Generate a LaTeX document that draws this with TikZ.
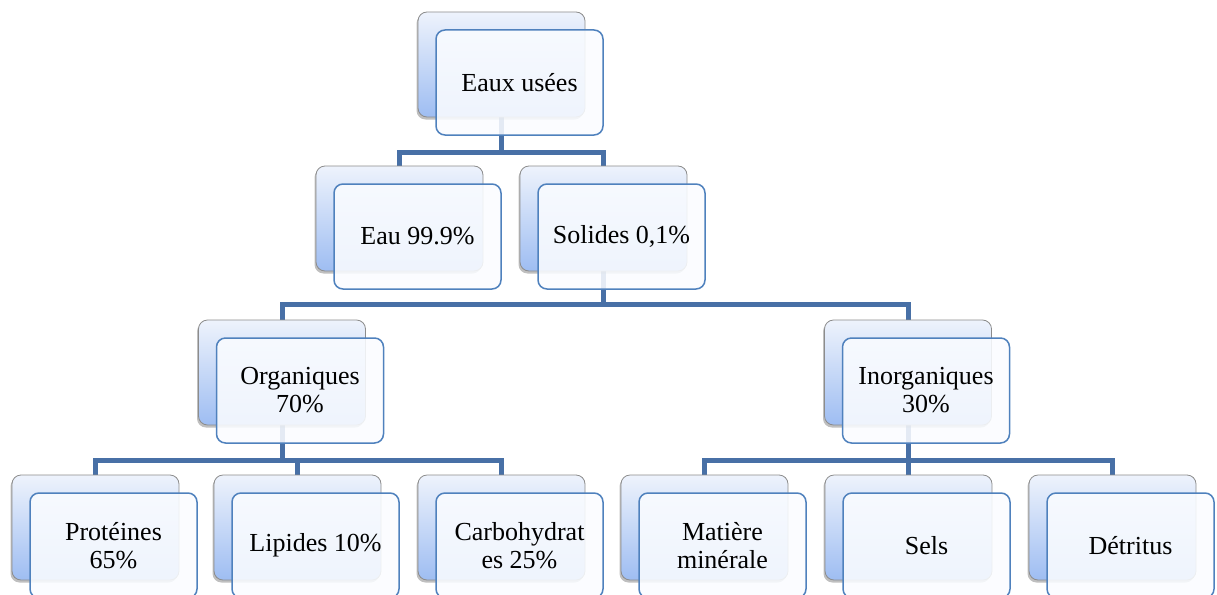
\documentclass[tikz,border=0pt]{standalone}
\usepackage{fontspec}
\setmainfont{Liberation Serif}
\usetikzlibrary{shadows}
\definecolor{connblue}{RGB}{72,112,166}
\definecolor{frontblue}{RGB}{79,129,189}
\definecolor{backtop}{RGB}{238,243,252}
\definecolor{backbot}{RGB}{158,189,242}
\definecolor{frontfill}{RGB}{250,252,255}
\tikzset{
  conn/.style={draw=connblue, line width=5pt, line join=miter},
  backbox/.style={draw=gray!90, line width=0.8pt, rounded corners=9pt,
    top color=backtop, bottom color=backbot,
    minimum width=167pt, minimum height=105pt, inner sep=0pt,
    drop shadow={shadow xshift=-1.5pt, shadow yshift=-2.5pt, opacity=0.25, fill=black}},
  frontbox/.style={draw=frontblue, line width=1.5pt, rounded corners=9pt,
    fill=frontfill, fill opacity=0.88, text opacity=1,
    minimum width=167pt, minimum height=105pt, inner sep=2pt,
    align=center, font=\fontsize{26}{28}\selectfont}
}
\begin{document}
\begin{tikzpicture}[x=1pt,y=-1pt]
\useasboundingbox (0,0) rectangle (1217,594);
\clip (0,0) rectangle (1217,594);
% bar levels
\coordinate (bar0) at (0,152);
\coordinate (bar1) at (0,304);
\coordinate (bar2) at (0,460);
% back boxes (positions)
\path
  (501.5,64.5) coordinate (p0)
  (399.5,218.5) coordinate (p1a)
  (603.5,218.5) coordinate (p1b)
  (282,372.5) coordinate (p2a)
  (908,372.5) coordinate (p2b)
  (95.5,527.5) coordinate (p3a)
  (297.5,527.5) coordinate (p3b)
  (501.5,527.5) coordinate (p3c)
  (704.5,527.5) coordinate (p3d)
  (908.5,527.5) coordinate (p3e)
  (1112.5,527.5) coordinate (p3f);
% invisible anchors for connectors (same geometry as back boxes)
\foreach \n in {0,1a,1b,2a,2b,3a,3b,3c,3d,3e,3f}{
  \node[minimum width=167pt, minimum height=105pt, inner sep=0pt] (b\n) at (p\n) {};
}
% connectors
\draw[conn] (b0.south) -- (b0.south |- bar0) -| (b1a.north);
\draw[conn] (b0.south) -- (b0.south |- bar0) -| (b1b.north);
\draw[conn] (b1b.south) -- (b1b.south |- bar1) -| (b2a.north);
\draw[conn] (b1b.south) -- (b1b.south |- bar1) -| (b2b.north);
\draw[conn] (b2a.south) -- (b2a.south |- bar2) -| (b3a.north);
\draw[conn] (b2a.south) -- (b2a.south |- bar2) -| (b3b.north);
\draw[conn] (b2a.south) -- (b2a.south |- bar2) -| (b3c.north);
\draw[conn] (b2b.south) -- (b2b.south |- bar2) -| (b3d.north);
\draw[conn] (b2b.south) -- (b2b.south |- bar2) -| (b3e.north);
\draw[conn] (b2b.south) -- (b2b.south |- bar2) -| (b3f.north);
% back boxes drawn
\foreach \n in {0,1a,1b,2a,2b,3a,3b,3c,3d,3e,3f}{
  \node[backbox] (bb\n) at (p\n) {};
}
% front boxes
\node[frontbox] (f0)  at ([shift={(18,18)}]p0)  {Eaux usées};
\node[frontbox] (f1a) at ([shift={(18,18)}]p1a) {Eau 99.9\%};
\node[frontbox] (f1b) at ([shift={(18,18)}]p1b) {Solides 0,1\%};
\node[frontbox] (f2a) at ([shift={(18,18)}]p2a) {Organiques\\70\%};
\node[frontbox] (f2b) at ([shift={(18,18)}]p2b) {Inorganiques\\30\%};
\node[frontbox] (f3a) at ([shift={(18,18)}]p3a) {Protéines\\65\%};
\node[frontbox] (f3b) at ([shift={(18,18)}]p3b) {Lipides 10\%};
\node[frontbox] (f3c) at ([shift={(18,18)}]p3c) {Carbohydrat\\es 25\%};
\node[frontbox] (f3d) at ([shift={(18,18)}]p3d) {Matière\\minérale};
\node[frontbox] (f3e) at ([shift={(18,18)}]p3e) {Sels};
\node[frontbox] (f3f) at ([shift={(18,18)}]p3f) {Détritus};
\end{tikzpicture}
\end{document}
